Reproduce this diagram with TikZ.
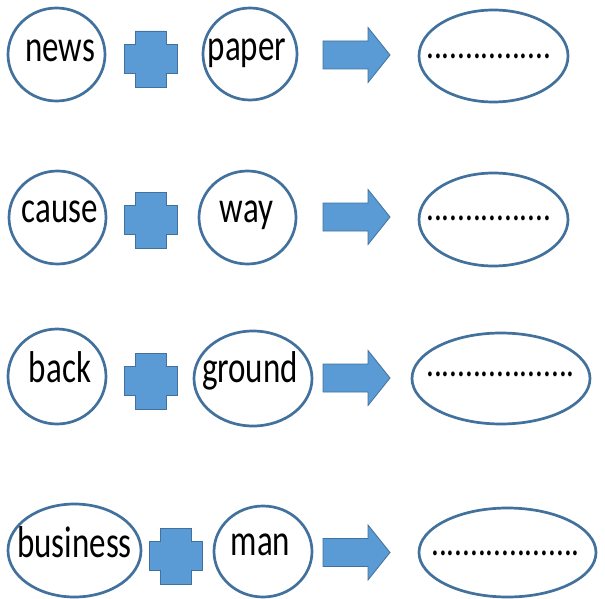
\documentclass[tikz,border=0pt]{standalone}
\usepackage{fontspec}
\setmainfont{Carlito}
\usetikzlibrary{shapes.geometric}
\definecolor{edgeblue}{RGB}{65,113,156}
\definecolor{fillblue}{RGB}{91,155,213}
\tikzset{
  oval/.style={ellipse,draw=edgeblue,line width=2.7pt,inner sep=0pt,fill=white},
  word/.style={anchor=base,inner sep=0pt,font=\fontsize{33}{36}\selectfont},
  dots/.style={anchor=base west,inner sep=0pt,font=\fontsize{31}{34}\selectfont},
  plusshape/.pic={
    \path[fill=fillblue,draw=edgeblue,line width=0.8pt]
      (-15.5,-28) -- (15.5,-28) -- (15.5,-14.5) -- (26.5,-14.5) -- (26.5,14.5)
      -- (15.5,14.5) -- (15.5,28) -- (-15.5,28) -- (-15.5,14.5) -- (-26.5,14.5)
      -- (-26.5,-14.5) -- (-15.5,-14.5) -- cycle;
  },
  arrowshape/.pic={
    \path[fill=fillblue,draw=edgeblue,line width=0.8pt]
      (0,-14) -- (45,-14) -- (45,-27.5) -- (67,0) -- (45,27.5) -- (45,14) -- (0,14) -- cycle;
  }
}
\newcommand{\myword}[1]{\scalebox{1}[1.35]{#1}}
\newcommand{\dotrow}[1]{\scalebox{1}[1.3]{#1}}
\begin{document}
\begin{tikzpicture}[x=1pt,y=-1pt]
\useasboundingbox (0,0) rectangle (605,599);
% row 1
\node[oval,minimum width=97pt,minimum height=93pt] (l1) at (56.5,54.5) {};
\node[oval,minimum width=94pt,minimum height=92pt] (m1) at (250,54) {};
\node[oval,minimum width=149pt,minimum height=92pt] (r1) at (493.5,56) {};
\pic at (150.5,59) {plusshape};
\pic at (323,55) {arrowshape};
\node[word] (t1a) at (60,62) {\myword{news}};
\node[word] (t1b) at (247,61) {\myword{paper}};
\node[dots] (d1) at (426,59) {\dotrow{................}};
% row 2
\node[oval,minimum width=97pt,minimum height=93pt] (l2) at (57.5,217.5) {};
\node[oval,minimum width=97pt,minimum height=93pt] (m2) at (247.5,217.5) {};
\node[oval,minimum width=149pt,minimum height=93pt] (r2) at (493.5,219.5) {};
\pic at (150.5,220) {plusshape};
\pic at (323,217) {arrowshape};
\node[word] (t2a) at (60,222) {\myword{cause}};
\node[word] (t2b) at (246.5,222) {\myword{way}};
\node[dots] (d2) at (426,220) {\dotrow{................}};
% row 3
\node[oval,minimum width=98pt,minimum height=95pt] (l3) at (57,376.5) {};
\node[oval,minimum width=118pt,minimum height=95pt] (m3) at (253,378.5) {};
\node[oval,minimum width=178pt,minimum height=91pt] (r3) at (501,378.5) {};
\pic at (150.5,381) {plusshape};
\pic at (323,378) {arrowshape};
\node[word] (t3a) at (60,382) {\myword{back}};
\node[word] (t3b) at (250,382) {\myword{ground}};
\node[dots] (d3) at (426,376) {\dotrow{...................}};
% row 4
\node[oval,minimum width=133pt,minimum height=93pt] (l4) at (74.5,550.5) {};
\node[oval,minimum width=98pt,minimum height=91pt] (m4) at (263,551.5) {};
\node[oval,minimum width=177pt,minimum height=89pt] (r4) at (507.5,552.5) {};
\pic at (176,556) {plusshape};
\pic at (323,552.5) {arrowshape};
\node[word] (t4a) at (74.5,557) {\myword{business}};
\node[word] (t4b) at (260.5,555) {\myword{man}};
\node[dots] (d4) at (431,555) {\dotrow{...................}};
\end{tikzpicture}
\end{document}
